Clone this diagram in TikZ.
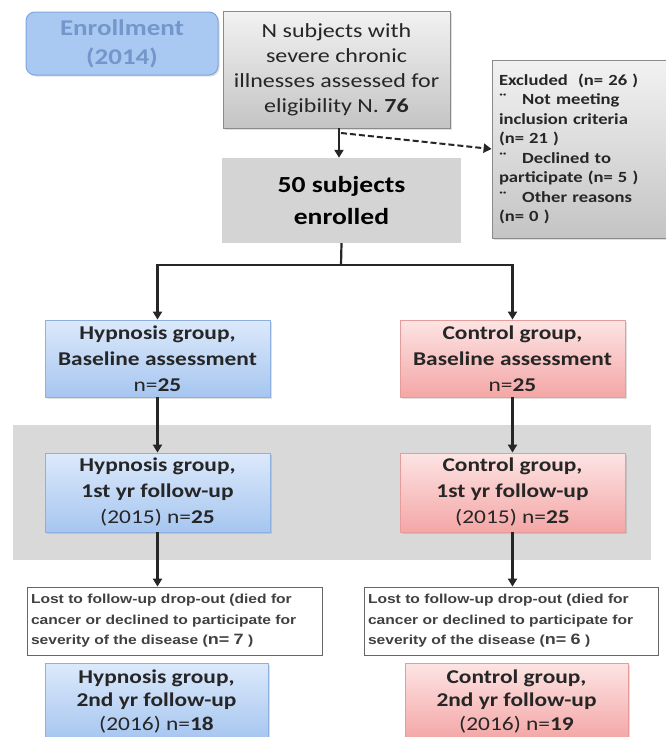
\documentclass[tikz,border=0pt]{standalone}
\usepackage{fontspec}
\setmainfont{Carlito}[FakeStretch=1.2]
\newfontfamily\arialfont{Liberation Sans}[FakeStretch=1.2]
\usetikzlibrary{arrows.meta,positioning,calc,shadows}
\definecolor{bandgray}{HTML}{D9D9D9}
\definecolor{enrfill}{HTML}{A9C9F2}
\definecolor{enrdraw}{HTML}{7EA6DC}
\definecolor{enrtext}{HTML}{7397CB}
\definecolor{bluetop}{HTML}{DCE9FB}
\definecolor{bluebot}{HTML}{A6C6F0}
\definecolor{blueline}{HTML}{8DB0E0}
\definecolor{pinktop}{HTML}{FDE4E4}
\definecolor{pinkbot}{HTML}{F4A6A6}
\definecolor{pinkline}{HTML}{E79C9C}
\definecolor{graytop}{HTML}{F2F2F2}
\definecolor{graybot}{HTML}{C4C4C4}
\definecolor{grayline}{HTML}{8A8A8A}
\definecolor{txt}{HTML}{262626}
\tikzset{
  box/.style={rectangle, inner sep=2pt, align=center, text=txt},
  shad/.style={drop shadow={shadow xshift=1.5pt, shadow yshift=-1.5pt, opacity=0.25}},
  bluebox/.style={box, shad, draw=blueline, line width=0.8pt, top color=bluetop, bottom color=bluebot},
  pinkbox/.style={box, shad, draw=pinkline, line width=0.8pt, top color=pinktop, bottom color=pinkbot},
  graybox/.style={box, shad, draw=grayline, line width=0.8pt, top color=graytop, bottom color=graybot},
  lostbox/.style={box, draw=black!60, line width=0.8pt, fill=white, align=left},
  arr/.style={line width=2.2pt, draw=black!85, -{Triangle[width=9pt,length=8pt]}},
  dasharr/.style={line width=2pt, draw=black!85, dashed, dash pattern=on 6pt off 3pt, -{Triangle[width=9pt,length=8pt]}},
  grpfont/.style={font=\fontsize{19.5}{26}\selectfont\bfseries},
  lostfont/.style={font=\arialfont\fontsize{13}{20.5}\selectfont\bfseries, text=black!75},
}
\begin{document}
\begin{tikzpicture}[x=1pt,y=-1pt]
\useasboundingbox (0,0) rectangle (666,737);
\clip (0,0) rectangle (666,737);
\fill[white] (0,0) rectangle (666,737);
% band
\fill[bandgray] (13,425) rectangle (651,560);
% enrollment
\node[box, shad, draw=enrdraw, fill=enrfill, rounded corners=9pt, line width=1pt,
  minimum width=192pt, minimum height=63pt, text=enrtext,
  font=\fontsize{22.5}{29}\selectfont\bfseries] (enr) at (122,43.5) {Enrollment\\(2014)};
% N subjects
\node[graybox, minimum width=227pt, minimum height=117pt,
  font=\fontsize{20}{25}\selectfont] (nbox) at (336.5,69.5)
  {N subjects with\\severe chronic\\illnesses assessed for\\eligibility N. \textbf{76}};
% 50 enrolled
\node[box, fill=black!17, minimum width=239pt, minimum height=85pt,
  font=\fontsize{23}{32}\selectfont\bfseries, text=black] (fifty) at (341.5,200.5)
  {50 subjects\\enrolled};
% excluded
\node[graybox, minimum width=174pt, minimum height=178pt, text width=160pt, align=left,
  font=\fontsize{15.5}{19.5}\selectfont\bfseries] (excl) at (579,149)
  {Excluded\ \ (n= 26 )\\
   ¨\quad Not meeting\\
   inclusion criteria\\
   (n= 21 )\\
   ¨\quad Declined to\\
   participate (n= 5 )\\
   ¨\quad Other reasons\\
   (n= 0 )};
% baseline
\node[bluebox, minimum width=225pt, minimum height=77pt, grpfont] (hb) at (157.5,358.5)
  {Hypnosis group,\\Baseline assessment\\\mdseries n=\bfseries 25};
\node[pinkbox, minimum width=225pt, minimum height=77pt, grpfont] (cb) at (512.5,358.5)
  {Control group,\\Baseline assessment\\\mdseries n=\bfseries 25};
% 1st yr
\node[bluebox, minimum width=225pt, minimum height=79pt, grpfont] (h1) at (157.5,492.5)
  {Hypnosis group,\\1st yr follow-up\\\mdseries (2015) n=\bfseries 25};
\node[pinkbox, minimum width=225pt, minimum height=79pt, grpfont] (c1) at (512.5,492.5)
  {Control group,\\1st yr follow-up\\\mdseries (2015) n=\bfseries 25};
% lost
\node[lostbox, minimum width=295pt, minimum height=68pt, text width=287pt, lostfont] (lostL) at (174.5,621)
  {Lost to follow-up drop-out (died for\\cancer or declined to participate for\\severity of the disease ({\fontsize{15}{20}\selectfont n= 7} )};
\node[lostbox, minimum width=294pt, minimum height=68pt, text width=286pt, lostfont] (lostR) at (511,621)
  {Lost to follow-up drop-out (died for\\cancer or declined to participate for\\severity of the disease ({\fontsize{15}{20}\selectfont n= 6} )};
% 2nd yr
\node[bluebox, minimum width=223pt, minimum height=76pt, anchor=north,
  font=\fontsize{19.5}{23.5}\selectfont\bfseries] (h2) at (156.5,663)
  {Hypnosis group,\\2nd yr follow-up\\\mdseries (2016) n=\bfseries 18};
\node[pinkbox, minimum width=223pt, minimum height=76pt, anchor=north,
  font=\fontsize{19.5}{23.5}\selectfont\bfseries] (c2) at (516.5,663)
  {Control group,\\2nd yr follow-up\\\mdseries (2016) n=\bfseries 19};
% connectors
\coordinate (nb) at (339,128);
\coordinate (ds) at (341,133);
\coordinate (split) at (341,265);
\draw[arr] (nb) -- (nb |- fifty.north);
\draw[dasharr] (ds) -- (excl.west);
\draw[line width=2.2pt, draw=black!85] (fifty.south) -- (split);
\draw[arr] (split) -| (hb.north);
\draw[arr] (split) -| (cb.north);
\draw[arr] (hb.south) -- (h1.north);
\draw[arr] (cb.south) -- (c1.north);
\draw[arr] (h1.south) -- (h1.south |- lostL.north);
\draw[arr] (c1.south) -- (c1.south |- lostR.north);
\end{tikzpicture}
\end{document}
